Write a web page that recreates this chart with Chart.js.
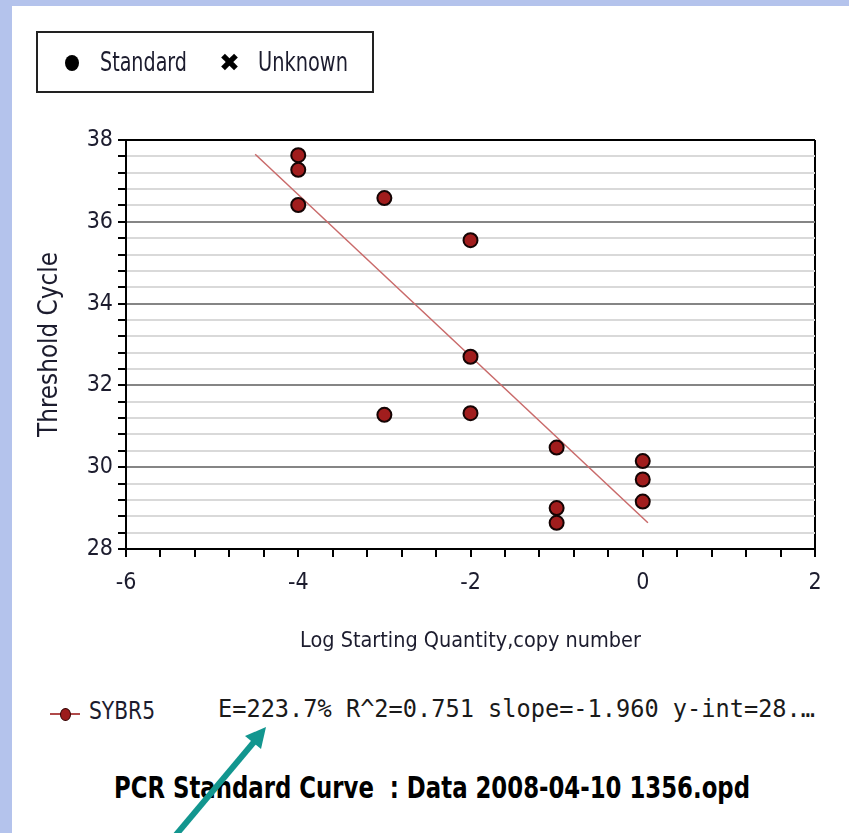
<!DOCTYPE html>
<html lang="en">
<head>
<meta charset="UTF-8">
<title>PCR Standard Curve</title>
<script src="https://cdn.jsdelivr.net/npm/chart.js"></script>
<style>
    body { margin: 0; width: 849px; height: 833px; overflow: hidden; position: relative; background: #b4c3ec; }
    #panel { position: absolute; left: 12px; top: 6px; right: 0; bottom: 0; background: #fff; }
    #curve { position: absolute; left: 0; top: 0; }
    .txt { position: absolute; white-space: pre; line-height: 1; color: #1c1c2e; transform-origin: 0 50%; font-family: 'DejaVu Sans Condensed', 'DejaVu Sans', sans-serif; }
    #legendBox { position: absolute; left: 36px; top: 31px; width: 334px; height: 58px; border: 2px solid #222; }
    #dotStd { position: absolute; left: 65px; top: 55px; width: 14px; height: 16px; border-radius: 50%; background: #000; }
    #mono { font-family: 'DejaVu Sans Mono', 'Liberation Mono', monospace; color: #1a1a1a; }
    #title { font-weight: bold; color: #000; }
    #sybrLine { position: absolute; left: 50px; top: 713px; width: 30px; height: 2px; background: #b04a4a; }
    #sybrDot { position: absolute; left: 60px; top: 708px; width: 11px; height: 13px; border-radius: 50%; background: #9c1c1c; border: 1px solid #300; box-sizing: border-box; }
    #arrow { position: absolute; left: 0; top: 0; }
</style>
</head>
<body>
<div id="panel"></div>
<canvas id="curve" width="849" height="680"></canvas>

<div id="legendBox"></div>
<div id="dotStd"></div>
<span class="txt" id="lgStd">Standard</span>
<span class="txt" id="lgUnkMark" style="color:#000">✖</span>
<span class="txt" id="lgUnk">Unknown</span>

<div id="sybrLine"></div>
<div id="sybrDot"></div>
<span class="txt" id="sybr">SYBR5</span>
<span class="txt" id="mono">E=223.7% R^2=0.751 slope=-1.960 y-int=28.…</span>
<span class="txt" id="title">PCR Standard Curve  : Data 2008-04-10 1356.opd</span>

<svg id="arrow" width="849" height="833">
    <line x1="175" y1="836" x2="254" y2="742" stroke="#12968f" stroke-width="6"/>
    <polygon points="266,727 261,749 245,736" fill="#12968f"/>
</svg>

<script>
    // standard points (log quantity, threshold cycle)
    const stdX = [-4, -4, -4, -3, -3, -2, -2, -2, -1, -1, -1, 0, 0, 0];
    const stdY = [37.63, 37.27, 36.41, 36.58, 31.28, 35.55, 32.70, 31.32, 30.48, 29.00, 28.64, 30.15, 29.70, 29.16];

    // fitted line ends as drawn
    const fitX = [-4.5, 0.06];
    const fitY = [37.65, 28.64];

    // labelled ticks
    const xLabels = [-6, -4, -2, 0, 2];
    const yLabels = [28, 30, 32, 34, 36, 38];

    const FONT = "'DejaVu Sans Condensed', 'DejaVu Sans', sans-serif";

    // font size that makes a text a given width
    function sizeFor(text, width, weight) {
        const ctx = document.createElement('canvas').getContext('2d');
        ctx.font = (weight || 'normal') + ' 100px ' + FONT;
        return 100 * width / ctx.measureText(text).width;
    }

    // size by cap height, then squeeze sideways to the width
    function place(id, left, cy, width, cap) {
        const el = document.getElementById(id);
        el.style.fontSize = (cap / 0.73) + 'px';
        const box = el.getBoundingClientRect();
        el.style.transform = 'scaleX(' + (width / box.width) + ')';
        el.style.left = left + 'px';
        el.style.top = (cy - box.height / 2) + 'px';
    }

    place('lgStd', 100, 62, 87, 19);
    place('lgUnkMark', 219, 63, 21, 18);
    place('lgUnk', 258, 62, 90, 19);
    place('sybr', 89, 711, 66, 18);
    place('mono', 218, 709, 597, 18);
    place('title', 114, 788, 636, 22);

    const yTitleText = 'Threshold Cycle';
    const xTitleText = 'Log Starting Quantity,copy number';
    const yTitleSize = sizeFor(yTitleText, 185);
    const xTitleSize = sizeFor(xTitleText, 341);

    const isLabel = (list, v) => list.includes(Math.round(v * 10) / 10);
    const tickColor = '#1c1c2e';

    new Chart(document.getElementById('curve'), {
        type: 'scatter',
        data: {
            datasets: [{
                label: 'Standard',
                data: stdX.map((x, i) => ({ x: x, y: stdY[i] })),
                pointRadius: 7,
                pointBackgroundColor: '#a11d1d',
                pointBorderColor: '#140404',
                pointBorderWidth: 2
            }, {
                label: 'Unknown',
                data: [],
                pointStyle: 'crossRot'
            }, {
                label: 'SYBR5',
                type: 'line',
                data: fitX.map((x, i) => ({ x: x, y: fitY[i] })),
                borderColor: '#c96a6a',
                borderWidth: 1.5,
                pointRadius: 0,
                fill: false
            }]
        },
        options: {
            responsive: false,
            animation: false,
            layout: { padding: { left: 0, top: 140, right: 34, bottom: 21 } },
            plugins: { legend: { display: false }, tooltip: { enabled: false } },
            scales: {
                x: {
                    type: 'linear',
                    min: -6,
                    max: 2,
                    afterFit: s => { s.height = 110; },
                    ticks: {
                        stepSize: 0.4,
                        autoSkip: false,
                        maxRotation: 0,
                        padding: 12,
                        color: tickColor,
                        font: { family: FONT, size: 23 },
                        callback: v => isLabel(xLabels, v) ? String(Math.round(v)) : ''
                    },
                    grid: {
                        color: c => c.tick && Math.abs(c.tick.value - 2) < 1e-6 ? '#000' : 'rgba(0,0,0,0)',
                        lineWidth: 2,
                        tickColor: '#000',
                        tickWidth: 2,
                        tickLength: 8
                    },
                    border: { color: '#000', width: 2 },
                    title: {
                        display: true,
                        text: xTitleText,
                        color: tickColor,
                        font: { family: FONT, size: xTitleSize },
                        padding: { top: 0, bottom: 18 - 0.6 * xTitleSize }
                    }
                },
                y: {
                    min: 28,
                    max: 38,
                    afterFit: s => { s.width = 126; },
                    ticks: {
                        stepSize: 0.4,
                        autoSkip: false,
                        padding: 5,
                        color: tickColor,
                        font: { family: FONT, size: 23 },
                        callback: v => isLabel(yLabels, v) ? String(Math.round(v)) : ''
                    },
                    grid: {
                        color: c => {
                            const v = Math.round(c.tick.value * 10) / 10;
                            if (v === 28 || v === 38) return '#000';
                            return yLabels.includes(v) ? '#858585' : '#d9d9d9';
                        },
                        lineWidth: 2,
                        tickColor: '#000',
                        tickWidth: 2,
                        tickLength: 8
                    },
                    border: { color: '#000', width: 2 },
                    title: {
                        display: true,
                        text: yTitleText,
                        color: tickColor,
                        font: { family: FONT, size: yTitleSize },
                        padding: { top: 50 - 0.6 * yTitleSize, bottom: 0 }
                    }
                }
            }
        }
    });
</script>
</body>
</html>
